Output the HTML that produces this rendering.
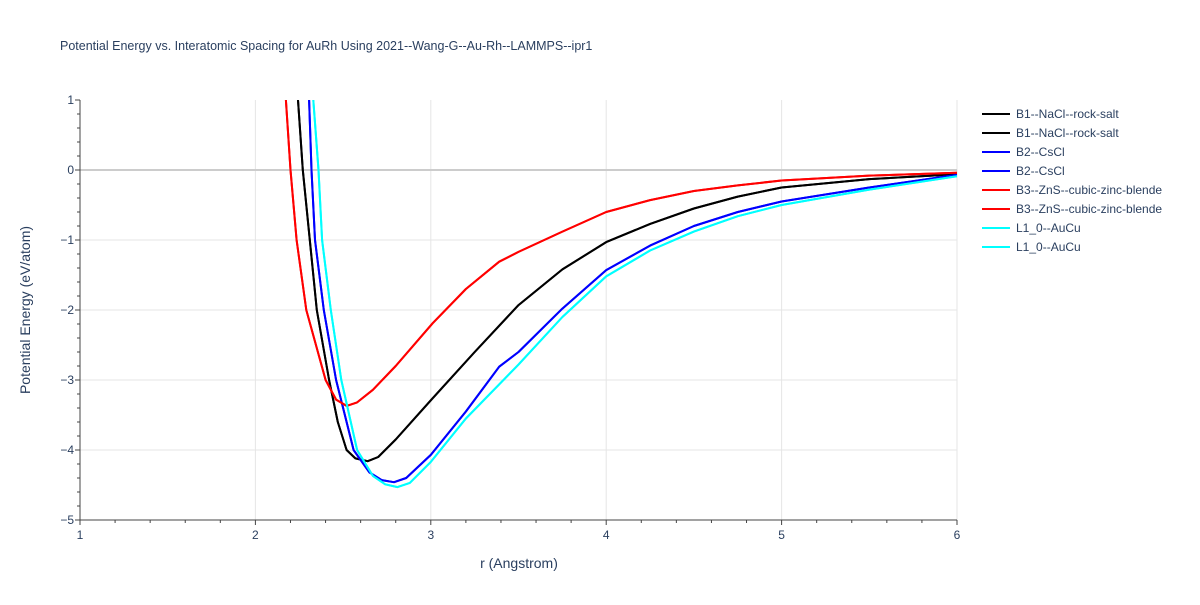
<!DOCTYPE html>
<html><head><meta charset="utf-8"><style>
body{margin:0;background:#fff;font-family:"Liberation Sans",Arial,sans-serif}
svg text{font-family:"Liberation Sans",Arial,sans-serif;fill:#2a3f5f}
</style></head><body>
<svg id="chart" width="1200" height="600" xmlns="http://www.w3.org/2000/svg">
<rect width="1200" height="600" fill="#fff"/>
<text x="60" y="50" font-size="12.5">Potential Energy vs. Interatomic Spacing for AuRh Using 2021--Wang-G--Au-Rh--LAMMPS--ipr1</text>
<g id="grid"></g>
<g id="plot"></g>
<g id="axes"></g>
<text x="519" y="568" font-size="14" text-anchor="middle">r (Angstrom)</text>
<text transform="translate(30,310) rotate(-90)" font-size="14" text-anchor="middle">Potential Energy (eV/atom)</text>
<g id="legend"></g>
</svg>
<script>
const xTicks=[1,2,3,4,5,6];
const yTicks=[1,0,-1,-2,-3,-4,-5];
const seriesNames=["B1--NaCl--rock-salt","B2--CsCl","B3--ZnS--cubic-zinc-blende","L1_0--AuCu"];
const seriesColors=["#000000","#0000ff","#ff0000","#00ffff"];
const b1R=[2.243,2.27,2.31,2.35,2.42,2.47,2.52,2.57,2.64,2.7,2.8,3.0,3.25,3.5,3.75,4.0,4.25,4.5,4.75,5.0,5.5,6.0];
const b1E=[1,0,-1,-2,-3,-3.6,-4.0,-4.12,-4.16,-4.1,-3.85,-3.29,-2.6,-1.93,-1.42,-1.03,-0.77,-0.55,-0.38,-0.25,-0.13,-0.06];
const b2R=[2.306,2.32,2.34,2.39,2.46,2.56,2.65,2.72,2.79,2.86,3.0,3.2,3.39,3.5,3.75,4.0,4.25,4.5,4.75,5.0,5.5,6.0];
const b2E=[1,0,-1,-2,-3,-4,-4.32,-4.43,-4.46,-4.4,-4.07,-3.45,-2.81,-2.6,-1.98,-1.43,-1.08,-0.8,-0.6,-0.45,-0.25,-0.07];
const b3R=[2.174,2.2,2.235,2.29,2.4,2.46,2.52,2.58,2.67,2.8,3.01,3.2,3.39,3.5,3.75,4.0,4.25,4.5,4.75,5.0,5.5,6.0];
const b3E=[1,0,-1,-2,-3,-3.28,-3.37,-3.32,-3.14,-2.8,-2.19,-1.7,-1.31,-1.17,-0.88,-0.6,-0.43,-0.3,-0.22,-0.15,-0.08,-0.04];
const l1R=[2.33,2.36,2.38,2.43,2.49,2.58,2.67,2.74,2.81,2.88,3.0,3.2,3.5,3.75,4.0,4.25,4.5,4.75,5.0,5.5,6.0];
const l1E=[1,0,-1,-2,-3,-4,-4.37,-4.49,-4.53,-4.47,-4.17,-3.55,-2.78,-2.1,-1.52,-1.15,-0.88,-0.66,-0.5,-0.28,-0.09];
const seriesR=[b1R,b2R,b3R,l1R], seriesE=[b1E,b2E,b3E,l1E];
const X0=80,X1=957,Y0=100,Y1=520;
const xs=r=>X0+(r-1)/5*(X1-X0);
const ys=e=>Y0+(1-e)/6*(Y1-Y0);
const NS="http://www.w3.org/2000/svg";
function mk(tag,attrs,parent){const el=document.createElementNS(NS,tag);for(const k in attrs)el.setAttribute(k,attrs[k]);parent.appendChild(el);return el;}
const grid=document.getElementById('grid'),axes=document.getElementById('axes'),plot=document.getElementById('plot'),legend=document.getElementById('legend');
xTicks.forEach(t=>{
 if(t>1){const g=mk('line',{x1:xs(t),x2:xs(t),y1:Y0,y2:Y1,stroke:'#e5e5e5','stroke-width':1},grid);
 
 }
 const tx=mk('text',{x:xs(t),y:Y1+19,'font-size':12,'text-anchor':'middle'},axes);tx.textContent=t;
 
 
});
yTicks.forEach(t=>{
 if(t!==1&&t!==-5){const g=mk('line',{x1:X0,x2:X1,y1:ys(t),y2:ys(t),stroke:t===0?'#cccccc':'#e5e5e5','stroke-width':t===0?2:1},grid);
 
 }
 const tx=mk('text',{x:X0-6,y:ys(t)+4,'font-size':12,'text-anchor':'end'},axes);tx.textContent=(t<0?'\u2212'+(-t):t);
 
 
});
for(let v=1;v<=6.001;v+=0.2){mk('line',{x1:xs(v),x2:xs(v),y1:Y1,y2:Y1+(Math.abs(v-Math.round(v))<0.01?5:3),stroke:'#444','stroke-width':1},axes);}
for(let v=-5;v<=1.001;v+=0.2){mk('line',{x1:X0,x2:X0-(Math.abs(v-Math.round(v))<0.01?5:3),y1:ys(v),y2:ys(v),stroke:'#444','stroke-width':1},axes);}
const clip=mk('clipPath',{id:'clp'},plot);mk('rect',{x:X0,y:Y0,width:X1-X0,height:Y1-Y0},clip);
const order=[0,1,2,3];
order.forEach(i=>{
 for(let d=0;d<2;d++){
 const pts=seriesR[i].map((r,j)=>xs(r).toFixed(1)+','+ys(seriesE[i][j]).toFixed(1)).join(' ');
 const pl=mk('polyline',{points:pts,fill:'none',stroke:seriesColors[i],'stroke-width':2,'stroke-linejoin':'round','clip-path':'url(#clp)'},plot);
 
 
 }
});
mk('line',{x1:X0,x2:X0,y1:Y0,y2:Y1,stroke:'#444','stroke-width':1},axes);
mk('line',{x1:X0,x2:X1,y1:Y1,y2:Y1,stroke:'#444','stroke-width':1},axes);
for(let k=0;k<8;k++){
 const i=Math.floor(k/2),y=114+k*19;
 const g=mk('g',{},legend);
 
 
 mk('line',{x1:982,x2:1010,y1:y,y2:y,stroke:seriesColors[i],'stroke-width':2},g);
 const t=mk('text',{x:1016,y:y+4,'font-size':12},g);t.textContent=seriesNames[i];
}
</script>
</body></html>
